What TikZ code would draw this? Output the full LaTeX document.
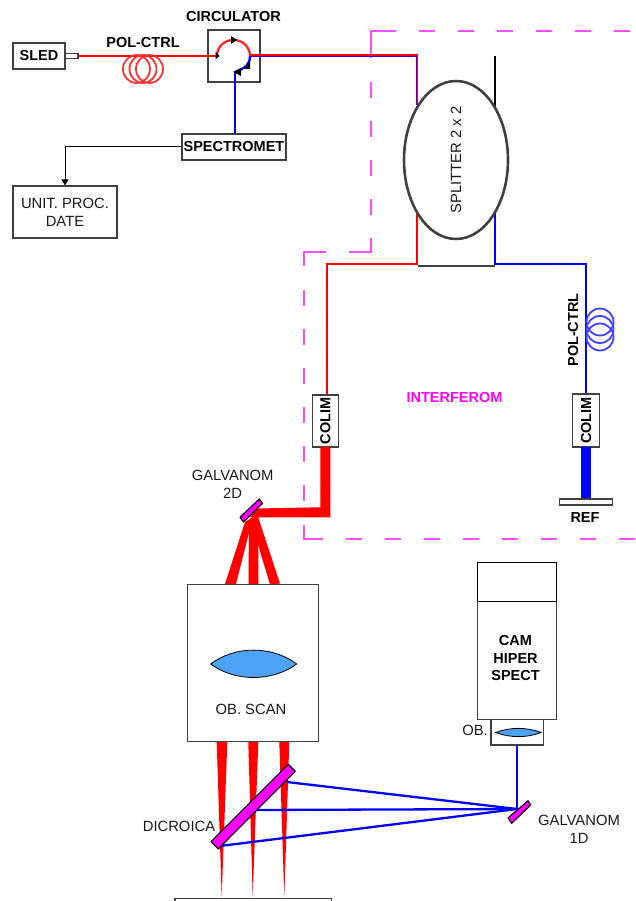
\documentclass[tikz,border=0pt]{standalone}
\usepackage{fontspec}
\setmainfont{Liberation Sans}
\usetikzlibrary{shapes.geometric,arrows.meta}
\definecolor{magbright}{HTML}{FF00FF}
\definecolor{lensblue}{HTML}{4FA3F7}
\definecolor{edgegray}{HTML}{404040}
\tikzset{
  txt/.style={font=\fontsize{14.8}{17}\selectfont,text=black!90,align=center,inner sep=0pt},
  bold/.style={txt,font=\fontsize{14.5}{17}\selectfont\bfseries,text=black},
  box/.style={draw=edgegray,line width=1.15pt,fill=white,inner sep=0pt,rectangle},
  redfib/.style={draw=red,line width=2.3pt},
  bluefib/.style={draw=blue,line width=2.3pt},
  thinred/.style={draw=red,line width=1.2pt},
  thinblue/.style={draw=blue!80!magbright,line width=1.3pt},
  beamred/.style={fill=red,draw=none},
  mirror/.style={fill=magbright,draw=black,line width=1.1pt,line join=round},
  lens/.style={fill=lensblue,draw=black,line width=0.8pt},
  frameline/.style={draw=magbright!70,line width=1.2pt},
  framedash/.style={frameline,dash pattern=on 16pt off 23pt},
  coilr/.style={draw=red!80,line width=1.8pt},
  coilb/.style={draw=blue!75,line width=1.8pt},
  ahead/.style={-{Triangle[length=6pt,width=7pt,black]}}
}
\begin{document}
\begin{tikzpicture}[x=1pt,y=-1pt]
\useasboundingbox (0,0) rectangle (636,901);
% dashed interferometer frame
\draw[framedash] (630,31) -- (380,31);
\draw[frameline] (395,31) -- (371,31) -- (371,58);
\draw[framedash] (371,82) -- (371,215);
\draw[frameline] (371,238) -- (371,252) -- (349,252);
\draw[frameline] (326,252) -- (304,252) -- (304,266);
\draw[framedash] (304,290) -- (304,502);
\draw[frameline] (304,525) -- (304,539) -- (323,539);
\draw[framedash] (346,539) -- (636,539);

% named points
\coordinate (circIn) at (217,56);
\coordinate (circTop) at (233.5,40);
\coordinate (circOut) at (250,56);
\coordinate (circDrop) at (235,72);
\coordinate (galvoB) at (517,809);
\coordinate (dicTop) at (287,782);
\coordinate (dicMid) at (253,810);
\coordinate (dicBot) at (220,846);
\coordinate (splitNW) at (417,105);
\coordinate (splitNE) at (494.7,108);
\coordinate (splitSW) at (417,210);
\coordinate (splitSE) at (495,210);
\coordinate (topBend) at (417.5,55);

% top row boxes
\node[box,minimum width=52pt,minimum height=26pt] (sled) at (39,56) {};
\node[bold] at (sled.center) {SLED};
\node[box,minimum width=13pt,minimum height=5pt] (port) at (71.5,56) {};
\node[box,minimum width=52pt,minimum height=52pt] (circ) at (234,56) {};
\node[bold] (circlabel) at (233.5,17) {CIRCULATOR};
\node[box,minimum width=104pt,minimum height=26pt] (spec) at (234,147) {};
\node[bold] at (spec.center) {SPECTROMET};
\node[box,minimum width=104pt,minimum height=52pt] (unit) at (65,212) {};
\node[txt] at (unit.center) {UNIT. PROC.\\[1pt]DATE};

% source fibre and coil
\draw[redfib] (port.east) -- (circIn);
\foreach \cx in {136.5,143,149.5} \draw[coilr] (\cx,69) ellipse (13.5pt and 14pt);
\node[bold] (polA) at (143,43) {POL-CTRL};

% circulator paths
\draw[draw=red!85,line width=2.3pt] (circIn) .. controls (217,47) and (224,40) .. (circTop) .. controls (243,40) and (250,47) .. (circOut);
\draw[bluefib] (circOut) .. controls (250,64) and (246,68) .. (circDrop);
\draw[bluefib] (circDrop) -- (spec.north -| circDrop);
\fill[black] (215.5,51.5) -- (219.5,56) -- (215.5,59.5) -- cycle;
\fill[black] (231,36) -- (237,40) -- (231,44) -- cycle;
\fill[black] (250,62) -- (250,69) -- (243,69) -- cycle;
\fill[black] (241,68) -- (241,76) -- (233,72) -- cycle;

% fibre to splitter
\draw[thinred] (circOut) ++(0,-1) -- (topBend) -- (splitNW -| topBend);
\draw[thinblue] (250,56.5) -- (416.3,56.5) -- (416.3,105);
\draw[draw=black,line width=2pt] (splitNE) ++(0,-52) -- (splitNE);

% data line
\draw[black,line width=1pt,ahead] (spec.west) -| (unit.north);

% splitter
\draw[edgegray,line width=1.2pt] (418,266) -- (495,266);
\draw[redfib] (splitSW) -- (417,264) -- (327,264) -- (327,395);
\draw[bluefib] (splitSE) -- (495,264) -- (586,264) -- (586,395);
\node[ellipse,draw=edgegray,line width=2.6pt,fill=white,minimum width=104pt,minimum height=158pt,inner sep=0pt] (split) at (456,160) {};
\node[txt,rotate=90] at (split.center) {SPLITTER 2 x 2};

% reference arm
\foreach \cy in {322,329.5,337} \draw[coilb] (600,\cy) ellipse (13.5pt and 13.5pt);
\node[bold,rotate=90] (polB) at (573,330) {POL-CTRL};
\node[box,minimum width=26.5pt,minimum height=53pt] (colR) at (586,420.5) {};
\node[bold,rotate=90] at (colR.center) {COLIM};
\fill[blue] (581,447) rectangle (591,499);
\node[box,minimum width=52.5pt,minimum height=6pt] (ref) at (586,502) {};
\node[bold] at (585,518) {REF};
\node[bold,text=magbright] (interf) at (454.5,398) {INTERFEROM};

% sample arm
\node[box,minimum width=26.5pt,minimum height=52pt] (colL) at (325.5,421) {};
\node[bold,rotate=90] at (colL.center) {COLIM};
\fill[beamred] (320.3,447) -- (330.3,447) -- (330.3,517.3) -- (250,517.3) -- (256,508.5) -- (320.3,507.3) -- cycle;
\fill[beamred] (245,522) -- (253,517) -- (236,584) -- (225,584) -- cycle;
\fill[beamred] (249,520) -- (258,516) -- (258.5,584) -- (248.5,584) -- cycle;
\fill[beamred] (250,518) -- (258,516.7) -- (280,583.5) -- (270,584.5) -- cycle;
\draw[mirror] (259.3,499) -- (262.5,503.5) -- (243.5,522) -- (240,517.3) -- cycle;
\node[txt] (g2) at (232.7,484) {GALVANOM\\[1pt]2D};

% scan objective
\node[box,minimum width=130.5pt,minimum height=156.5pt] (scan) at (253,663) {};
\draw[lens] (210.7,664) .. controls (235,645.5) and (272,645.5) .. (296.7,664) .. controls (272,682) and (235,682) .. (210.7,664) -- cycle;
\node[txt] at (251,709) {OB. SCAN};

% focused beams
\fill[beamred] (216.7,742) -- (227.3,742) -- (221.7,897) -- cycle;
\fill[beamred] (248.3,742) -- (258.3,742) -- (252.7,897) -- cycle;
\fill[beamred] (279.3,742) -- (289.3,742) -- (284.3,897) -- cycle;

% dichroic and galvo 1D
\draw[bluefib] (dicTop) -- (galvoB);
\draw[bluefib] (dicMid) -- (galvoB);
\draw[bluefib] (dicBot) -- (galvoB);
\draw[mirror] (288.3,764.3) -- (295.3,771.3) -- (218.3,849) -- (211,841.7) -- cycle;
\node[txt] (dic) at (179,826) {DICROICA};
\draw[edgegray,line width=1.2pt] (175,901) -- (175,898.5) -- (331.5,898.5) -- (331.5,901);

% hyperspectral camera
\node[box,minimum width=52.3pt,minimum height=26pt] (obc) at (517.2,732) {};
\draw[lens] (495.7,732.5) .. controls (510,727) and (527,727) .. (541,732.5) .. controls (527,738) and (510,738) .. (495.7,732.5) -- cycle;
\node[box,minimum width=78.6pt,minimum height=156.3pt] (cam) at (517,641) {};
\draw[draw=black,line width=1.2pt] (cam.north west) rectangle (556.3,601.7);
\node[bold] at (515.5,641) {CAM};
\node[bold] at (515.5,659) {HIPER};
\node[bold] at (515.5,676) {SPECT};
\node[txt] (obl) at (475,730) {OB.};
\draw[bluefib] (obc.south -| galvoB) -- (galvoB);
\draw[mirror] (528,800.7) -- (530.7,805) -- (511.7,823.3) -- (508,818) -- cycle;
\node[txt] (g1) at (579,829) {GALVANOM\\[1pt]1D};
\end{tikzpicture}
\end{document}
